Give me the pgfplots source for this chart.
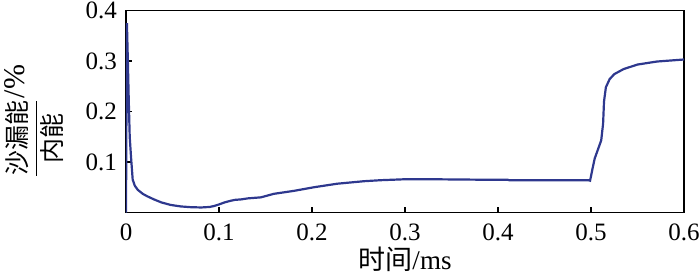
\documentclass[border=0pt]{standalone}
\usepackage{fontspec}
\usepackage{amsmath}
\setmainfont{Liberation Serif}
\newfontfamily\cjk{Noto Sans CJK SC}
\newcommand\tlf{\rmfamily\fontsize{12.5}{14}\selectfont}
\usepackage{pgfplots}
\pgfplotsset{compat=1.18}
\definecolor{lineblue}{RGB}{46,56,142}
\begin{document}
\begin{tikzpicture}
\useasboundingbox (-63pt,-31.25pt) rectangle (287pt,106.25pt);
\begin{axis}[
  scale only axis,
  width=279pt, height=101pt,
  at={(0,0)}, anchor=south west,
  xmin=0, xmax=0.6, ymin=0, ymax=0.4,
  xtick={0,0.1,0.2,0.3,0.4,0.5,0.6},
  xticklabels={{\tlf 0},{\tlf 0.1},{\tlf 0.2},{\tlf 0.3},{\tlf 0.4},{\tlf 0.5},{\tlf 0.6}},
  ytick={0.1,0.2,0.3,0.4},
  yticklabels={{\tlf 0.1},{\tlf 0.2},{\tlf 0.3},{\tlf 0.4}},
  tick pos=left, tick align=inside,
  major tick length=3pt,
  axis line style={line width=0.8pt},
  tick style={line width=0.6pt, black},
  xticklabel style={yshift=-2pt},
  yticklabel style={xshift=-1pt},
  xlabel={\rmfamily\fontsize{13.5}{15}\selectfont{\cjk 时间}/ms},
  xlabel style={at={(rel axis cs:0.5,0)}, anchor=center, yshift=-23.5pt},
  ylabel={\tlf$\dfrac{\mbox{\cjk 沙漏能}}{\mbox{\cjk 内能}}$\raisebox{1.6ex}{\fontsize{15}{16}\selectfont/\%}},
  ylabel style={at={(rel axis cs:0,0.5)}, anchor=center, yshift=46pt, xshift=-5pt},
]
\addplot[color=lineblue, line width=1.1pt] coordinates {
(0,0) (0.0005,0.2) (0.001,0.375) (0.002,0.30) (0.003,0.22) (0.004,0.15)
(0.0054,0.11) (0.0072,0.065) (0.0095,0.053) (0.0126,0.045) (0.018,0.037)
(0.023,0.032) (0.030,0.026) (0.038,0.020) (0.048,0.015) (0.059,0.012)
(0.07,0.0105) (0.081,0.010) (0.09,0.011) (0.095,0.013) (0.1,0.016)
(0.106,0.020) (0.112,0.023) (0.117,0.025) (0.124,0.026) (0.131,0.028)
(0.145,0.030) (0.159,0.037) (0.181,0.043) (0.202,0.050) (0.227,0.057)
(0.256,0.062) (0.274,0.064) (0.302,0.066) (0.32,0.066) (0.38,0.065)
(0.41,0.065) (0.412,0.064) (0.45,0.064) (0.497,0.064) (0.499,0.063)
(0.502,0.09) (0.504,0.107) (0.511,0.143) (0.513,0.176) (0.514,0.22)
(0.516,0.248) (0.520,0.264) (0.525,0.274) (0.535,0.284) (0.55,0.293)
(0.571,0.299) (0.6,0.303)
};
\end{axis}
\end{tikzpicture}
\end{document}
